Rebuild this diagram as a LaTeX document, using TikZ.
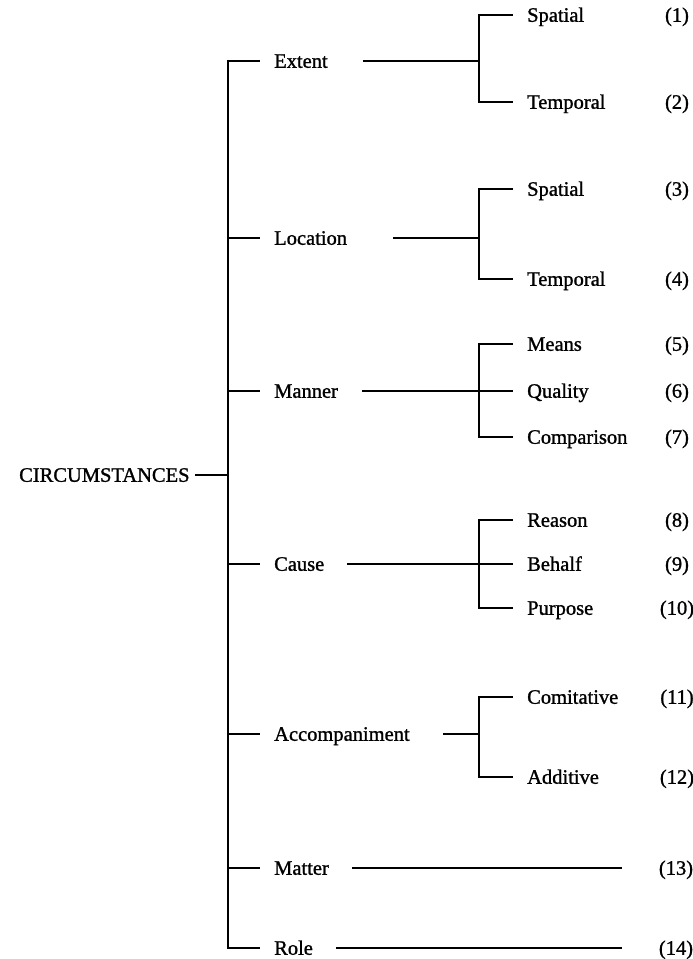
\documentclass[tikz,border=0pt]{standalone}
\usepackage{fontspec}
\setmainfont[FakeBold=1.2]{Liberation Serif}
\usetikzlibrary{positioning,calc}

\tikzset{
  lbl/.style={anchor=west, inner sep=0pt, text height=13.5pt, text depth=0pt,
              font=\fontsize{20.5}{24}\selectfont},
  num/.style={lbl, anchor=center},
  branch/.style={line width=2.6pt, line cap=rect},
}

\begin{document}
\begin{tikzpicture}[x=1pt, y=-1pt]
  \useasboundingbox (0,0) rectangle (693,959);

  % Gốc và trục dọc chính
  \node[lbl] (root) at (19,475) {CIRCUMSTANCES};
  \coordinate (spinetop) at (228,61);
  \coordinate (spinebot) at (228,948);
  \draw[branch] (spinetop) -- (spinebot);
  \draw[branch] ([xshift=7pt]root.east) -- (root.east -| spinetop);

  % Các nhánh cấp 1: tên/nhãn/y
  \foreach \n/\t/\y in {ext/Extent/61, loc/Location/238,
                        man/Manner/391, cau/Cause/564,
                        acc/Accompaniment/734, mat/Matter/868,
                        rol/Role/948} {
    \node[lbl] (\n) at (274,\y) {\t};
    \draw[branch] (\n.west -| spinetop) -- ([xshift=-15pt]\n.west);
  }

  % Điểm nối của các ngoặc nhánh con
  \coordinate (junc) at (479,0);
  \foreach \n/\g in {ext/36, loc/47, man/25, cau/24, acc/34} {
    \draw[branch] ([xshift=\g pt]\n.east) -- (\n.east -| junc);
  }

  % Các nhánh cấp 2: cha/tên/nhãn/y/số
  \foreach \p/\s/\t/\y/\k in {
      ext/extsp/Spatial/15/1, ext/exttm/Temporal/102/2,
      loc/locsp/Spatial/189/3, loc/loctm/Temporal/279/4,
      man/means/Means/344/5, man/qual/Quality/391/6, man/comp/Comparison/437/7,
      cau/reas/Reason/520/8, cau/beh/Behalf/564/9, cau/purp/Purpose/608/10,
      acc/comit/Comitative/697/11, acc/addit/Additive/777/12} {
    \node[lbl] (\s) at (527,\y) {\t};
    \node[num] (n\k) at (677,\y) {(\k)};
    \draw[branch] (\s.west -| junc) -- ([xshift=-15pt]\s.west);
  }

  % Ngoặc dọc
  \draw[branch] (extsp.west -| junc) -- (exttm.west -| junc);
  \draw[branch] (locsp.west -| junc) -- (loctm.west -| junc);
  \draw[branch] (means.west -| junc) -- (comp.west -| junc);
  \draw[branch] (reas.west -| junc) -- (purp.west -| junc);
  \draw[branch] (comit.west -| junc) -- (addit.west -| junc);

  % Matter và Role: đường thẳng tới số
  \node[num] (n13) at (676,868) {(13)};
  \node[num] (n14) at (676,948) {(14)};
  \coordinate (matend) at (621,868);
  \coordinate (rolend) at (621,948);
  \draw[branch] ([xshift=24pt]mat.east) -- (matend);
  \draw[branch] ([xshift=24pt]rol.east) -- (rolend);

\end{tikzpicture}
\end{document}
